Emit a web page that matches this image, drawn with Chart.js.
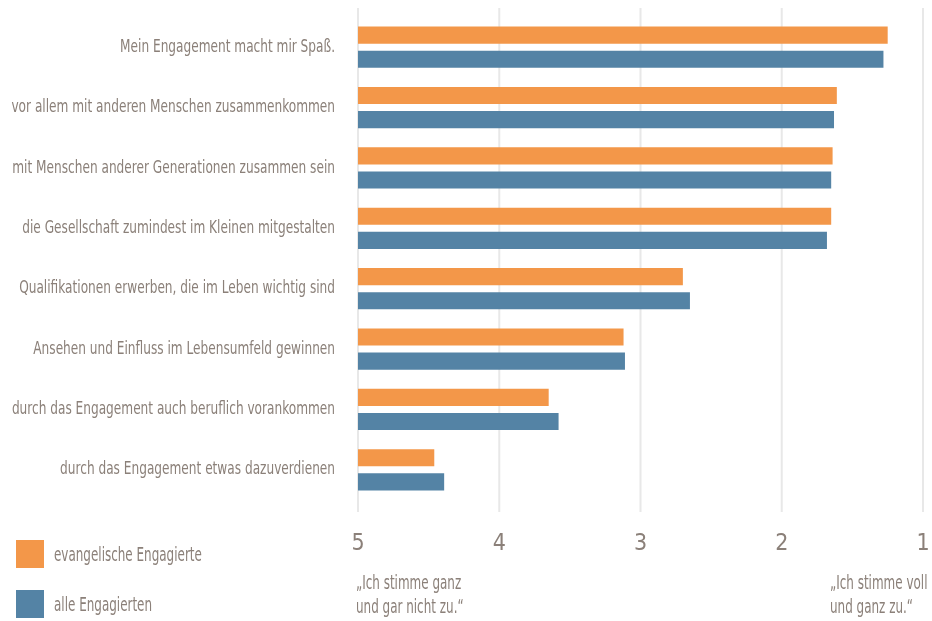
<!DOCTYPE html>
<html>
<head>
<meta charset="utf-8">
<script src="https://cdn.jsdelivr.net/npm/chart.js@4.4.1/dist/chart.umd.min.js"></script>
<style>
    html, body { margin: 0; padding: 0; background: #fff; }
    #wrap { position: relative; width: 932px; height: 621px; overflow: hidden; }
    .txt { position: absolute; font-family: "DejaVu Sans Condensed", sans-serif; color: #8b8079; font-size: 19px; line-height: 24px; white-space: nowrap; transform: scaleX(0.7); transform-origin: left top; }
    .box { position: absolute; width: 28px; height: 28px; }
</style>
</head>
<body>
<div id="wrap">
    <canvas id="barChart" width="932" height="621"></canvas>
    <div class="box" style="left:16px; top:540px; background:#f39749"></div>
    <div class="txt" style="left:54px; top:542px">evangelische Engagierte</div>
    <div class="box" style="left:16px; top:590px; background:#5483a5"></div>
    <div class="txt" style="left:54px; top:592px">alle Engagierten</div>
    <div class="txt" style="left:356px; top:570px">„Ich stimme ganz<br>und gar nicht zu.“</div>
    <div class="txt" style="left:830px; top:570px">„Ich stimme voll<br>und ganz zu.“</div>
</div>
<script>
const kategorien = [
    "Mein Engagement macht mir Spaß.",
    "vor allem mit anderen Menschen zusammenkommen",
    "mit Menschen anderer Generationen zusammen sein",
    "die Gesellschaft zumindest im Kleinen mitgestalten",
    "Qualifikationen erwerben, die im Leben wichtig sind",
    "Ansehen und Einfluss im Lebensumfeld gewinnen",
    "durch das Engagement auch beruflich vorankommen",
    "durch das Engagement etwas dazuverdienen"
];
const evangelisch = [1.25, 1.61, 1.64, 1.65, 2.70, 3.12, 3.65, 4.46];
const alle = [1.28, 1.63, 1.65, 1.68, 2.65, 3.11, 3.58, 4.39];
const skalaTicks = [5, 4, 3, 2, 1];

const schrift = "'DejaVu Sans Condensed', sans-serif";
const textFarbe = "#8b8079";

// Gitterlinien etwas länger als die Zeichenfläche
const gitterPlugin = {
    id: "gitter",
    beforeDatasetsDraw(chart) {
        const ctx = chart.ctx;
        const xScale = chart.scales.x;
        ctx.save();
        ctx.strokeStyle = "#e8e8e8";
        ctx.lineWidth = 2;
        skalaTicks.forEach((t) => {
            const x = xScale.getPixelForValue(t);
            ctx.beginPath();
            ctx.moveTo(x, 8);
            ctx.lineTo(x, 512);
            ctx.stroke();
        });
        ctx.restore();
    },
};

// Kategorienamen schmal gezeichnet (kein Condensed-Font vorhanden)
const labelPlugin = {
    id: "schmaleLabels",
    afterDraw(chart) {
        const ctx = chart.ctx;
        const yScale = chart.scales.y;
        const rechts = yScale.right - 23;
        ctx.save();
        ctx.font = "18px " + schrift;
        ctx.fillStyle = textFarbe;
        ctx.textAlign = "right";
        ctx.textBaseline = "middle";
        kategorien.forEach((k, i) => {
            const y = yScale.getPixelForValue(i);
            ctx.save();
            ctx.translate(rechts, y);
            ctx.scale(0.75, 1);
            ctx.fillText(k, 0, 0);
            ctx.restore();
        });
        ctx.restore();
    },
};

const ctx = document.getElementById("barChart").getContext("2d");
new Chart(ctx, {
    type: "bar",
    data: {
        labels: kategorien,
        datasets: [
            {
                label: "evangelische Engagierte",
                data: evangelisch,
                base: 5,
                backgroundColor: "#f39749",
                categoryPercentage: 0.8,
                barPercentage: 0.71,
            },
            {
                label: "alle Engagierten",
                data: alle,
                base: 5,
                backgroundColor: "#5483a5",
                categoryPercentage: 0.8,
                barPercentage: 0.71,
            },
        ],
    },
    options: {
        indexAxis: "y",
        responsive: false,
        animation: false,
        layout: { autoPadding: false, padding: { top: 17, right: 9, left: 0, bottom: 0 } },
        plugins: {
            legend: { display: false },
            tooltip: { enabled: false },
        },
        scales: {
            x: {
                type: "linear",
                min: 1,
                max: 5,
                reverse: true,
                afterBuildTicks: (scale) => {
                    scale.ticks = skalaTicks.map((v) => ({ value: v }));
                },
                afterFit: (scale) => {
                    scale.height = 121;
                    scale.paddingLeft = 0;
                    scale.paddingRight = 0;
                },
                grid: { display: false, drawTicks: false },
                border: { display: false },
                ticks: {
                    padding: 30,
                    maxRotation: 0,
                    color: textFarbe,
                    font: { family: schrift, size: 23 },
                },
            },
            y: {
                afterFit: (scale) => {
                    scale.width = 358;
                    scale.paddingTop = 0;
                    scale.paddingBottom = 0;
                },
                grid: { display: false, drawTicks: false },
                border: { display: false },
                ticks: { display: false },
            },
        },
    },
    plugins: [gitterPlugin, labelPlugin],
});
</script>
</body>
</html>
